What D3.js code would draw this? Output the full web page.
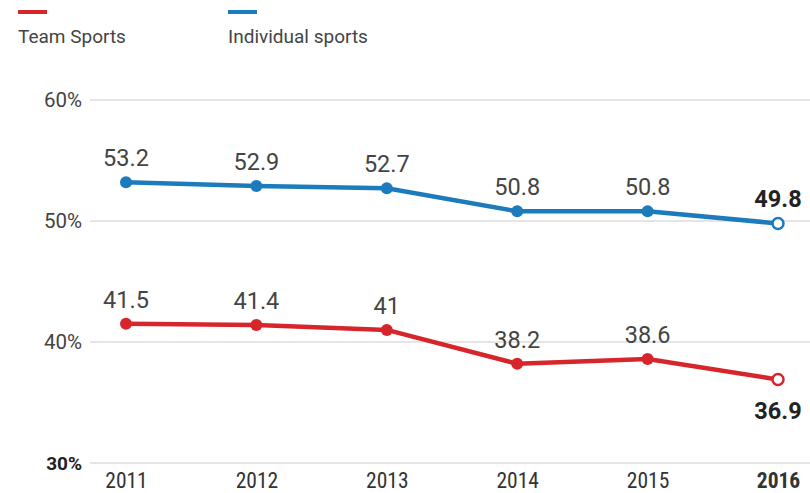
<!DOCTYPE html>
<html>
<head>
<meta charset="utf-8">
<script src="https://cdn.jsdelivr.net/npm/d3@7"></script>
<style>
  body { margin: 0; background: #fff; }
  svg { display: block; }
  text { font-family: "Roboto", "Liberation Sans", sans-serif; fill: #333; }
  .year { font-family: "Liberation Sans Narrow", "Roboto Condensed", "Roboto", sans-serif; }
</style>
</head>
<body>
<div id="chart"></div>
<script>
var years = ['2011', '2012', '2013', '2014', '2015', '2016'];
var team_values = [41.5, 41.4, 41, 38.2, 38.6, 36.9];
var individual_values = [53.2, 52.9, 52.7, 50.8, 50.8, 49.8];
var y_ticks = [30, 40, 50, 60];
var series_names = ['Team Sports', 'Individual sports'];
var series_colors = ['#d7262b', '#1b7bbd'];

var width = 810, height = 493;
var svg = d3.select('#chart').append('svg').attr('width', width).attr('height', height);

var x_scale = d3.scalePoint().domain(years).range([126, 778]);
var y_scale = d3.scaleLinear().domain([30, 60]).range([463, 100]);

// gridlines + y labels
var grid = svg.append('g');
y_ticks.forEach(t => {
    grid.append('line').attr('x1', 90).attr('x2', width)
        .attr('y1', y_scale(t)).attr('y2', y_scale(t))
        .attr('stroke', '#dcdcdc').attr('stroke-width', 1.5);
    grid.append('text').attr('x', 82).attr('y', y_scale(t) + 7)
        .attr('text-anchor', 'end').style('font-size', t == 30 ? '19px' : '20.5px')
        .style('font-weight', t == 30 ? 'bold' : 'normal')
        .style('fill', t == 30 ? '#222' : '#444')
        .text(t + '%');
});

// x labels
var x_axis = d3.axisBottom(x_scale).tickSize(0).tickPadding(0);
var x_g = svg.append('g').attr('transform', 'translate(0,' + 488 + ')').call(x_axis);
x_g.select('.domain').remove();
x_g.selectAll('text').attr('class', 'year').attr('dy', 0)
    .style('font-size', '21.5px').style('fill', '#333')
    .style('font-weight', d => d == '2016' ? 'bold' : 'normal');

// legend
series_names.forEach((name, i) => {
    var lx = i == 0 ? 18 : 228;
    svg.append('line').attr('x1', lx).attr('x2', lx + 29).attr('y1', 12).attr('y2', 12)
        .attr('stroke', series_colors[i]).attr('stroke-width', 4);
    svg.append('text').attr('x', lx).attr('y', 43).style('font-size', '19px').style('fill', '#444').text(name);
});

var line = d3.line().x((d, i) => x_scale(years[i])).y(d => y_scale(d));

[team_values, individual_values].forEach((values, s) => {
    var color = series_colors[s];
    svg.append('path').datum(values).attr('d', line)
        .attr('fill', 'none').attr('stroke', color).attr('stroke-width', 4.5)
        .attr('stroke-linejoin', 'round');
    values.forEach((v, i) => {
        var last = i == values.length - 1;
        svg.append('circle').attr('cx', x_scale(years[i])).attr('cy', y_scale(v))
            .attr('r', last ? 5.5 : 6)
            .attr('fill', last ? '#fff' : color)
            .attr('stroke', last ? color : 'none').attr('stroke-width', 2.5);
        var below = s == 0 && last;
        svg.append('text').attr('x', x_scale(years[i]))
            .attr('y', below ? y_scale(v) + 39 : y_scale(v) - 16)
            .attr('text-anchor', 'middle')
            .style('font-size', '23.5px')
            .style('font-weight', last ? 'bold' : 'normal')
            .style('fill', last ? '#222' : '#444')
            .text(v);
    });
});
</script>
</body>
</html>
